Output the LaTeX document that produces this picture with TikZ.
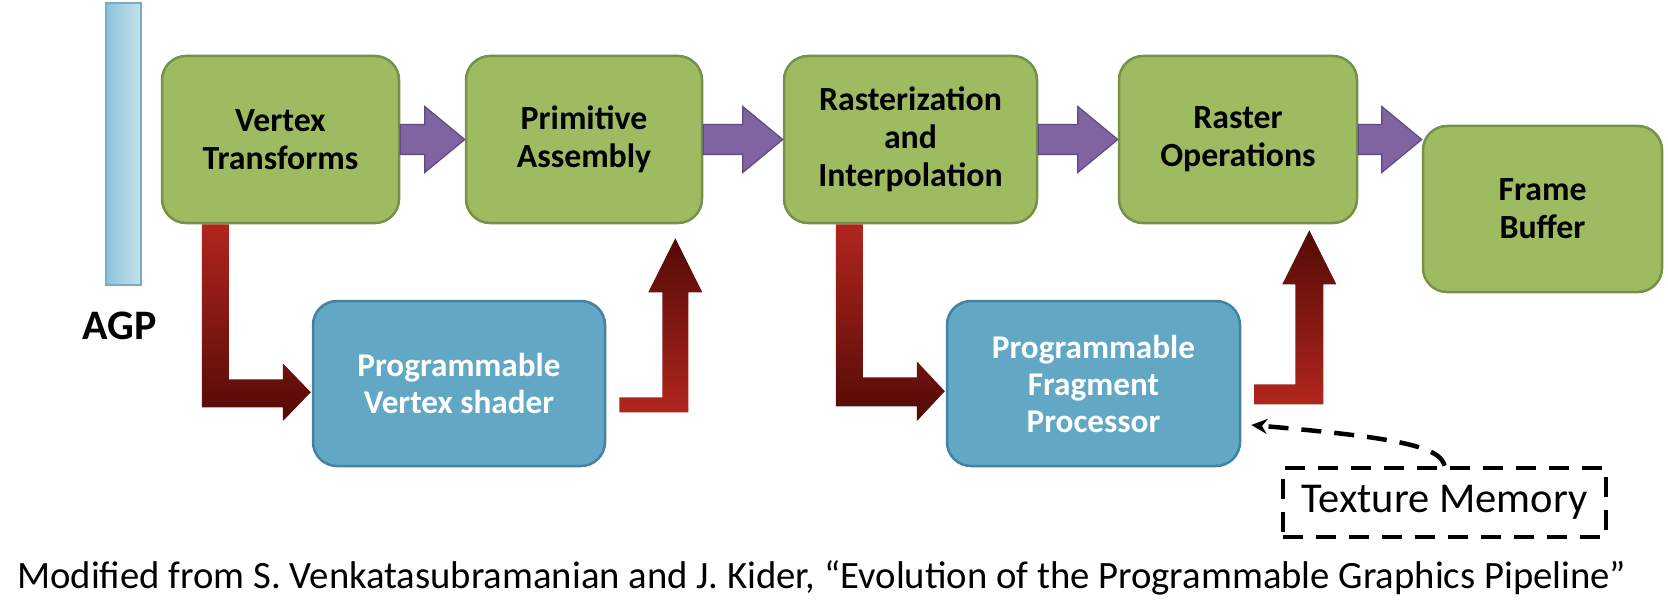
\documentclass[tikz,border=0pt]{standalone}
\usepackage{fontspec}
\setmainfont{Carlito}
\usetikzlibrary{calc,arrows.meta}
\definecolor{gfill}{HTML}{9EBB62}
\definecolor{gline}{HTML}{76924A}
\definecolor{bfill}{HTML}{62A8C5}
\definecolor{bline}{HTML}{45829F}
\definecolor{pfill}{HTML}{7F64A2}
\definecolor{pline}{HTML}{5E4A80}
\definecolor{rlight}{HTML}{B0261D}
\definecolor{rdark}{HTML}{530A06}
\definecolor{agpL}{HTML}{8CC3D9}
\definecolor{agpR}{HTML}{C4E2EC}
\definecolor{agpline}{HTML}{72AECA}
\tikzset{
  stage/.style={draw=gline, line width=2.5pt, fill=gfill, rounded corners=24pt,
    align=center, inner sep=0pt, font=\fontsize{33.8}{38}\selectfont\bfseries},
  progbox/.style={draw=bline, line width=2.5pt, fill=bfill, rounded corners=24pt,
    align=center, inner sep=0pt, text=white, font=\fontsize{33.2}{37}\selectfont\bfseries},
  flowarrow/.style={fill=pfill, draw=pline, line width=1.2pt},
  downarrow/.style={top color=rlight, bottom color=rdark},
  uparrow/.style={top color=rdark, bottom color=rlight},
  dashline/.style={line width=4.5pt, dash pattern=on 20pt off 13pt},
}
\newcommand\pipearrow[2]{%
  \filldraw[flowarrow] let \p1=(#1.east), \p2=(#2.west) in
    (\x1,\y1+15pt) -- (\x2-40pt,\y1+15pt) -- (\x2-40pt,\y1+33pt) -- (\x2,\y1)
    -- (\x2-40pt,\y1-33pt) -- (\x2-40pt,\y1-15pt) -- (\x1,\y1-15pt) -- cycle;}
\begin{document}
\begin{tikzpicture}[x=1pt,y=-1pt]
\useasboundingbox (0,0) rectangle (1668,607);
\fill[white] (0,0) rectangle (1668,607);

% AGP bus
\node[draw=agpline, line width=1.5pt, left color=agpL, right color=agpR,
  minimum width=35pt, minimum height=282pt, inner sep=0pt] (agp) at (123.5,144) {};
\node[font=\fontsize{42}{48}\selectfont\bfseries] (agplabel) at (120,326) {AGP};

% pipeline stages
\node[stage, minimum width=237pt, minimum height=167pt] (vt) at (280.5,139.5) {Vertex\\Transforms};
\node[stage, minimum width=236pt, minimum height=167pt] (pa) at (584,139.5) {Primitive\\Assembly};
\node[stage, minimum width=253pt, minimum height=167pt] (ra) at (910.5,139.5) {Rasterization\\and\\Interpolation};
\node[stage, minimum width=238pt, minimum height=167pt] (ro) at (1238,139.5) {Raster\\Operations};
\node[stage, minimum width=239pt, minimum height=166pt] (fb) at (1542.5,209) {Frame\\Buffer};

\node[progbox, minimum width=292pt, minimum height=165pt] (pvs) at (459,383.5) {Programmable\\Vertex shader};
\node[progbox, minimum width=293pt, minimum height=165pt] (fp) at (1093.5,383.5) {Programmable\\Fragment\\Processor};

% texture memory
\node[draw, dashline, minimum width=323pt, minimum height=69pt, inner sep=0pt,
  font=\fontsize{42.5}{48}\selectfont] (tex) at (1444.5,502.5) {Texture Memory};

% purple flow arrows
\pipearrow{vt}{pa}
\pipearrow{pa}{ra}
\pipearrow{ra}{ro}
\pipearrow{ro}{fb}

% red bent arrows
\begin{scope}[shift={(vt.south west)}]
  \shade[downarrow] (41,0) -- (68,0) -- (68,155) -- (122,155) -- (122,139) -- (150,168)
    -- (122,197) -- (122,183) -- (41,183) -- cycle;
\end{scope}
\begin{scope}[shift={(ra.south west)}]
  \shade[downarrow] (53,0) -- (80,0) -- (80,153) -- (134,153) -- (134,137) -- (162,167)
    -- (134,197) -- (134,182) -- (53,182) -- cycle;
\end{scope}
\begin{scope}[shift={(pvs.south east)}]
  \shade[uparrow] (13,-70) -- (56,-70) -- (56,-175) -- (42,-175) -- (69,-229) -- (96,-175)
    -- (82,-175) -- (82,-55) -- (13,-55) -- cycle;
\end{scope}
\begin{scope}[shift={(fp.south east)}]
  \shade[uparrow] (13,-83) -- (54,-83) -- (54,-183) -- (41,-183) -- (68,-237) -- (95,-183)
    -- (82,-183) -- (82,-63) -- (13,-63) -- cycle;
\end{scope}

% dashed texture fetch
\coordinate (fpin) at ($(fp.east)+(10,41.5)$);
\draw[dashline, -{Stealth[length=16pt,width=15pt]}] (tex.north)
  .. controls ($(tex.north)+(-4,-20)$) and ($(fpin)+(140,12)$) .. (fpin);

% caption
\node[anchor=base west, inner sep=0pt, font=\fontsize{38.7}{44}\selectfont] (cap) at (17,588)
  {Modified from S. Venkatasubramanian and J. Kider, “Evolution of the Programmable Graphics Pipeline”};
\end{tikzpicture}
\end{document}
